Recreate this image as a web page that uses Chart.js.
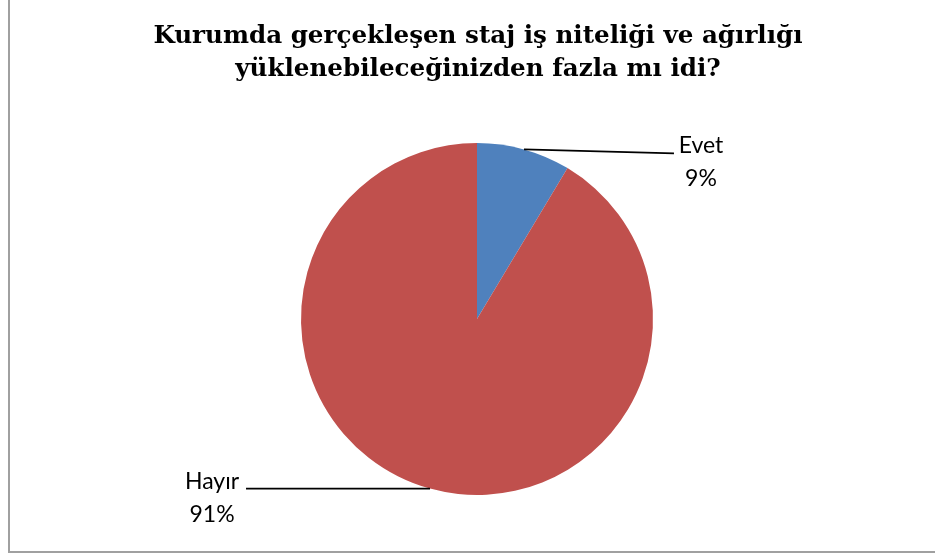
<!DOCTYPE html>
<html><head><meta charset="utf-8">
<script src="https://cdn.jsdelivr.net/npm/chart.js@4"></script>
<style>html,body{margin:0;padding:0;background:#fff}#wrap{position:relative;width:935px;height:556px}</style>
</head><body><div id="wrap"><canvas id="c" width="935" height="556"></canvas></div>
<script>
const titleLines = ['Kurumda gerçekleşen staj iş niteliği ve ağırlığı', 'yüklenebileceğinizden fazla mı idi?'];
const categories = ['Evet', 'Hayır'];
const values = [8.6, 91.4];
const colors = ['#4F81BD', '#C0504D'];

const deco = {
  id: 'deco',
  afterDraw(chart) {
    const ctx = chart.ctx;
    ctx.save();
    // frame (left and bottom edges visible)
    ctx.strokeStyle = '#a0a0a0';
    ctx.lineWidth = 2;
    ctx.beginPath();
    ctx.moveTo(9, 0); ctx.lineTo(9, 552); ctx.lineTo(935, 552);
    ctx.stroke();
    // title
    ctx.fillStyle = '#000';
    ctx.textAlign = 'center';
    ctx.textBaseline = 'alphabetic';
    ctx.font = 'bold 24.6px "DejaVu Serif"';
    ctx.fillText(titleLines[0], 478, 43);
    ctx.fillText(titleLines[1], 478, 76);
    // labels with leader lines
    const meta = chart.getDatasetMeta(0);
    const total = values.reduce((a, b) => a + b, 0);
    ctx.font = '23px Lato';
    meta.data.forEach((arc, i) => {
      const mid = (arc.startAngle + arc.endAngle) / 2;
      const px = arc.x + Math.cos(mid) * arc.outerRadius;
      const py = arc.y + Math.sin(mid) * arc.outerRadius;
      const pct = Math.round(values[i] / total * 100) + '%';
      const right = Math.cos(mid) > 0;
      let ex, ey, tx;
      if (right) { ex = px + 150; ey = py + 4; tx = ex + 27; }
      else { ex = px - 184; ey = py; tx = ex - 34; }
      ctx.strokeStyle = '#000';
      ctx.lineWidth = 1.8;
      ctx.beginPath(); ctx.moveTo(px, py); ctx.lineTo(ex, ey); ctx.stroke();
      ctx.fillStyle = '#000';
      ctx.textAlign = 'center';
      ctx.fillText(categories[i], tx, ey);
      ctx.fillText(pct, tx, ey + 33);
    });
    ctx.restore();
  }
};

new Chart(document.getElementById('c'), {
  type: 'pie',
  data: {
    labels: categories,
    datasets: [{ data: values, backgroundColor: colors, borderWidth: 0 }]
  },
  options: {
    responsive: false,
    animation: false,
    layout: { padding: { top: 143, bottom: 61, left: 301, right: 282 } },
    plugins: { legend: { display: false }, tooltip: { enabled: false }, title: { display: false } }
  },
  plugins: [deco]
});
</script></body></html>
